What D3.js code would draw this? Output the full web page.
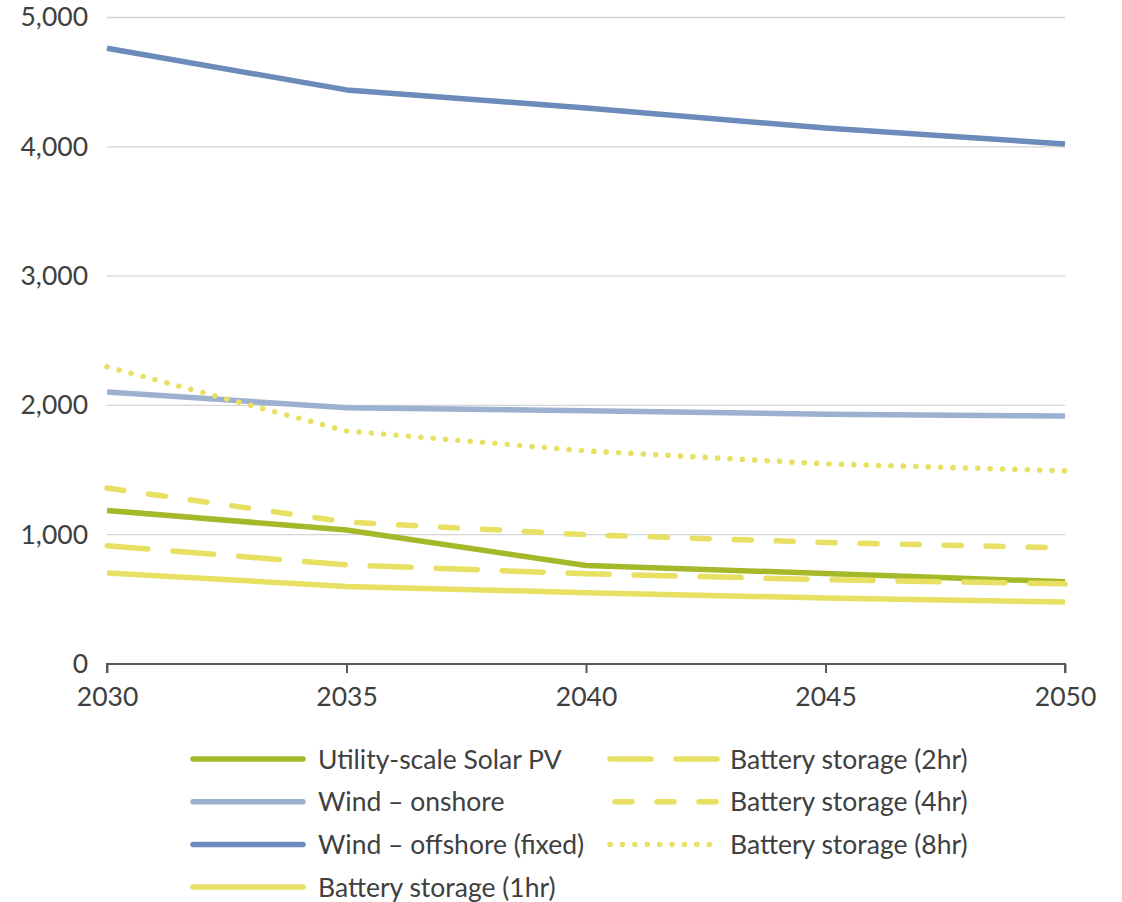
<!DOCTYPE html>
<html>
<head>
<meta charset="utf-8">
<script src="https://cdn.jsdelivr.net/npm/d3@7"></script>
<style>
  html, body { margin: 0; padding: 0; background: #fff; }
  svg { display: block; font-family: Lato, "Open Sans", sans-serif; }
</style>
</head>
<body>
<svg id="chart" width="1122" height="902"></svg>
<script>
// Cost projections by technology, 2030–2050
const years = [2030, 2035, 2040, 2045, 2050];
const yTicks = [0, 1000, 2000, 3000, 4000, 5000];

const solarPV      = [1188, 1036, 762, 700, 636];
const windOnshore  = [2104, 1982, 1958, 1932, 1918];
const windOffshore = [4762, 4440, 4300, 4145, 4022];
const battery1hr   = [704, 600, 552, 510, 480];
const battery2hr   = [915, 766, 698, 652, 620];
const battery4hr   = [1361, 1098, 1000, 940, 898];
const battery8hr   = [2298, 1802, 1648, 1548, 1494];

const seriesNames = [
  "Utility-scale Solar PV",
  "Wind – onshore",
  "Wind – offshore (fixed)",
  "Battery storage (1hr)",
  "Battery storage (2hr)",
  "Battery storage (4hr)",
  "Battery storage (8hr)"
];
const seriesValues = [solarPV, windOnshore, windOffshore, battery1hr, battery2hr, battery4hr, battery8hr];

const yellow = "#e8e062";
const styles = [
  { color: "#a4b82a", dash: null,          cap: "butt"  },
  { color: "#9cb0d0", dash: null,          cap: "butt"  },
  { color: "#6c8bbb", dash: null,          cap: "butt"  },
  { color: yellow,    dash: null,          cap: "butt"  },
  { color: yellow,    dash: "41 25",       cap: "round" },
  { color: yellow,    dash: "17 25",       cap: "round" },
  { color: yellow,    dash: "0.1 12.3",    cap: "round" }
];

const fontSize = 26.5;
const textColor = "#404040";

const svg = d3.select("#chart");
const plotLeft = 107, plotRight = 1065, plotTop = 17.5, plotBottom = 664;

const x = d3.scaleLinear().domain([2030, 2050]).range([plotLeft, plotRight]);
const y = d3.scaleLinear().domain([0, 5000]).range([plotBottom, plotTop]);

// horizontal gridlines
svg.append("g")
  .selectAll("line")
  .data(yTicks.filter(d => d > 0))
  .join("line")
  .attr("x1", plotLeft).attr("x2", plotRight)
  .attr("y1", d => y(d)).attr("y2", d => y(d))
  .attr("stroke", "#d4d4d4").attr("stroke-width", 1.3);

// y axis labels
const yAxis = d3.axisLeft(y).tickValues(yTicks).tickSize(0).tickPadding(19)
  .tickFormat(d3.format(","));
const gy = svg.append("g").attr("transform", `translate(${plotLeft},0)`).call(yAxis);
gy.select(".domain").remove();
gy.selectAll("text").attr("font-size", fontSize).attr("fill", textColor)
  .attr("font-family", "Lato, sans-serif");

// lines
const line = d3.line().x((d, i) => x(years[i])).y(d => y(d));
const order = [0, 1, 2, 3, 4, 5, 6];
svg.append("g")
  .selectAll("path")
  .data(order)
  .join("path")
  .attr("d", i => line(seriesValues[i]))
  .attr("fill", "none")
  .attr("stroke", i => styles[i].color)
  .attr("stroke-width", 5.5)
  .attr("stroke-linejoin", "round")
  .attr("stroke-linecap", i => styles[i].cap)
  .attr("stroke-dasharray", i => styles[i].dash);

// x axis
const xAxis = d3.axisBottom(x).tickValues(years).tickSize(9).tickPadding(14)
  .tickFormat(d3.format("d"));
const gx = svg.append("g").attr("transform", `translate(0,${plotBottom})`).call(xAxis);
gx.select(".domain").attr("stroke", "#595959").attr("stroke-width", 2)
  .attr("d", `M${plotLeft},9V0H${plotRight}V9`);
gx.selectAll(".tick line").attr("stroke", "#595959").attr("stroke-width", 2);
gx.selectAll("text").attr("font-size", fontSize).attr("fill", textColor)
  .attr("font-family", "Lato, sans-serif");

// legend
const legendItems = [
  { i: 0, col: 0, row: 0 }, { i: 1, col: 0, row: 1 }, { i: 2, col: 0, row: 2 }, { i: 3, col: 0, row: 3 },
  { i: 4, col: 1, row: 0 }, { i: 5, col: 1, row: 1 }, { i: 6, col: 1, row: 2 }
];
const colX = [193, 607], rowY0 = 759, rowStep = 42.7;
const lg = svg.append("g").selectAll("g").data(legendItems).join("g")
  .attr("transform", d => `translate(${colX[d.col]},${rowY0 + d.row * rowStep})`);
lg.append("line")
  .attr("x1", d => d.i === 5 ? 8 : (d.i >= 4 ? 3 : 0))
  .attr("x2", d => d.i >= 4 ? 112 : 110)
  .attr("y1", 0).attr("y2", 0)
  .attr("stroke", d => styles[d.i].color)
  .attr("stroke-width", 5.5)
  .attr("stroke-linecap", "round")
  .attr("stroke-dasharray", d => styles[d.i].dash);
lg.append("text")
  .attr("x", d => d.col === 0 ? 125 : 123).attr("y", 0).attr("dy", "0.36em")
  .attr("font-size", fontSize).attr("fill", textColor)
  .attr("font-family", "Lato, sans-serif")
  .text(d => seriesNames[d.i]);
</script>
</body>
</html>
